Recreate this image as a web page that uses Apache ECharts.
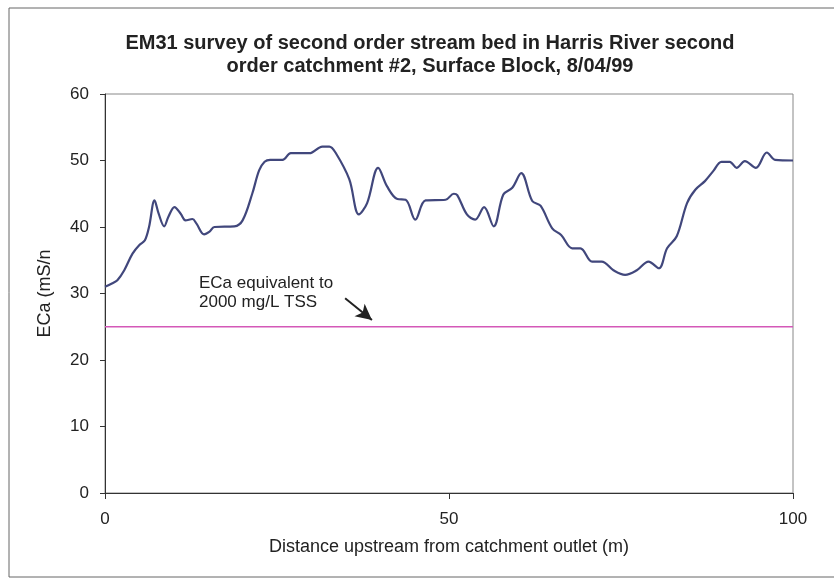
<!DOCTYPE html>
<html>
<head>
<meta charset="utf-8">
<title>EM31 survey – Harris River</title>
<script src="https://cdn.jsdelivr.net/npm/echarts@6/dist/echarts.min.js"></script>
<style>
  html, body { margin: 0; padding: 0; background: #fff; }
  #chart { width: 834px; height: 584px; }
</style>
</head>
<body>
<div id="chart"></div>
<script>
// Distance upstream from the catchment outlet (m)
const distance = [
  0, 1.0, 1.8, 2.8, 4.0, 5.0, 5.8, 6.4, 7.2, 7.8, 8.6, 9.2, 10.1, 11.0, 11.7,
  12.7, 13.3, 14.4, 15.2, 15.9, 18.8, 20.0, 21.4, 22.4, 23.2, 24.0, 25.8, 27.0,
  29.7, 31.6, 32.6, 33.5, 35.5, 36.9, 38.1, 39.7, 41.0, 42.5, 43.7, 45.1, 46.6,
  49.5, 50.7, 51.2, 52.6, 53.8, 55.1, 56.5, 57.9, 59.2, 60.5, 62.1, 63.3, 65.0,
  66.3, 67.9, 69.1, 70.8, 72.2, 73.9, 75.6, 77.3, 79.0, 80.5, 81.7, 83.1, 84.6,
  85.8, 87.2, 88.4, 89.6, 90.8, 91.8, 93.0, 94.6, 96.2, 97.4, 100
];
// Apparent conductivity ECa (mS/m) along the stream bed
const eca = [
  31.0, 31.5, 32.0, 33.5, 36.0, 37.3, 38.0, 40.0, 44.0, 42.0, 40.1, 41.5, 43.0, 42.0, 41.0,
  41.2, 40.5, 38.9, 39.3, 40.0, 40.1, 41.0, 45.0, 48.5, 49.8, 50.1, 50.1, 51.1,
  51.1, 52.1, 52.1, 51.2, 47.2, 41.9, 43.6, 48.9, 46.1, 44.2, 44.1, 41.1, 44.0,
  44.1, 45.0, 44.8, 41.9, 41.1, 43.0, 40.1, 44.9, 45.9, 48.1, 43.9, 43.2, 39.8,
  38.8, 36.8, 36.8, 34.8, 34.8, 33.5, 32.8, 33.5, 34.8, 33.8, 36.8, 38.6, 43.6,
  45.6, 46.9, 48.4, 49.8, 49.8, 48.9, 49.9, 48.9, 51.2, 50.1, 50.0
];
// ECa equivalent to 2000 mg/L total suspended solids
const tssThreshold = 25;
const thresholdSpan = [0, 100];
// Arrow pointing from the note down to the threshold line (data coords)
const arrowFrom = [34.9, 29.3];
const arrowTo = [38.8, 26.0];

const yTicks = [0, 10, 20, 30, 40, 50, 60];
const xTicks = [0, 50, 100];

const FONT = "'Liberation Sans', Arial, Helvetica, sans-serif";
const TEXT = '#222';

const chart = echarts.init(document.getElementById('chart'), null, { renderer: 'canvas' });

chart.setOption({
  animation: false,
  backgroundColor: '#fff',
  title: {
    text: 'EM31 survey of second order stream bed in Harris River second\norder catchment #2, Surface Block, 8/04/99',
    left: 425,
    top: 27,
    textAlign: 'center',
    textStyle: {
      fontFamily: FONT, fontSize: 20, fontWeight: 'bold', color: TEXT, lineHeight: 23
    }
  },
  grid: {
    left: 105, right: 41, top: 94, bottom: 91,
    show: true, borderColor: '#888', borderWidth: 1, backgroundColor: 'transparent'
  },
  xAxis: {
    type: 'value',
    min: xTicks[0], max: xTicks[xTicks.length - 1], interval: xTicks[1] - xTicks[0],
    name: 'Distance upstream from catchment outlet (m)',
    nameLocation: 'middle', nameGap: 45,
    nameTextStyle: { fontFamily: FONT, fontSize: 18, color: TEXT },
    axisLine: { show: true, lineStyle: { color: '#333', width: 1 } },
    axisTick: { show: true, length: 6, lineStyle: { color: '#333' } },
    axisLabel: { fontFamily: FONT, fontSize: 17, color: TEXT, margin: 18 },
    splitLine: { show: false }
  },
  yAxis: {
    type: 'value',
    min: yTicks[0], max: yTicks[yTicks.length - 1], interval: yTicks[1] - yTicks[0],
    name: 'ECa (mS/n',
    nameLocation: 'middle', nameGap: 51, nameRotate: 90,
    nameTextStyle: { fontFamily: FONT, fontSize: 18, color: TEXT },
    axisLine: { show: true, lineStyle: { color: '#333', width: 1 } },
    axisTick: { show: true, length: 5, lineStyle: { color: '#333' } },
    axisLabel: { fontFamily: FONT, fontSize: 17, color: TEXT, margin: 16 },
    splitLine: { show: false }
  },
  series: [
    {
      name: 'ECa',
      type: 'line',
      data: distance.map((d, i) => [d, eca[i]]),
      smooth: 0.35,
      showSymbol: false,
      lineStyle: { color: '#41477c', width: 2.2 },
      z: 3
    },
    {
      name: 'TSS threshold',
      type: 'line',
      data: thresholdSpan.map(x => [x, tssThreshold]),
      showSymbol: false,
      lineStyle: { color: '#d458b8', width: 1.6 },
      z: 2,
      markLine: {
        silent: true,
        symbol: ['none', 'arrow'],
        symbolSize: [12, 16],
        label: { show: false },
        lineStyle: { color: '#222', width: 2, type: 'solid' },
        data: [[{ coord: arrowFrom }, { coord: arrowTo }]]
      }
    }
  ],
  graphic: [
    {
      type: 'rect',
      shape: { x: 9, y: 8, width: 840, height: 569 },
      style: { fill: 'none', stroke: '#666', lineWidth: 1 },
      silent: true, z: -1
    },
    {
      type: 'text',
      left: 199, top: 274,
      style: {
        text: 'ECa equivalent to\n2000 mg/L TSS',
        font: '17px ' + FONT,
        fill: TEXT,
        lineHeight: 19
      },
      silent: true
    }
  ]
});
</script>
</body>
</html>
